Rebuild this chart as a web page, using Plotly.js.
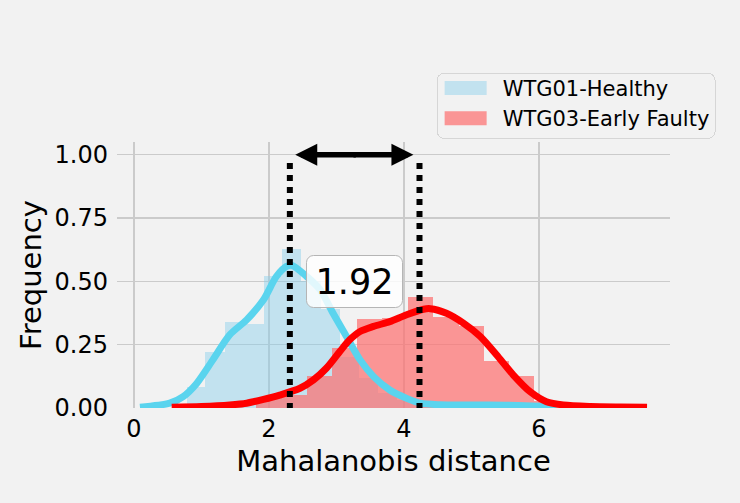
<!DOCTYPE html>
<html>
<head>
<meta charset="utf-8">
<script src="https://cdn.plot.ly/plotly-3.0.1.min.js"></script>
<style>
  html, body { margin: 0; padding: 0; background: #f2f2f2; }
  #chart { width: 740px; height: 503px; }
  .annotation rect.bg, .legend rect.bg { rx: 7px; ry: 7px; }
</style>
</head>
<body>
<div id="chart"></div>
<script>
// ---- Data ----
// WTG01-Healthy histogram (bin edges and normalised frequency)
var healthyEdges = [0.78, 1.06, 1.35, 1.63, 1.92, 2.20, 2.48, 2.77, 3.05, 3.34, 3.62, 3.90, 4.19, 4.47, 4.76, 5.04, 5.32, 5.61, 5.89, 6.18];
var healthyFreq  = [0.084, 0.223, 0.341, 0.330, 0.522, 0.627, 0.500, 0.390, 0.200, 0.120, 0.060, 0.030, 0.015, 0.010, 0.010, 0.010, 0.008, 0.008, 0.005];
// WTG03-Early Faulty histogram
var faultyEdges = [1.81, 2.19, 2.56, 2.93, 3.31, 3.68, 4.06, 4.43, 4.81, 5.18, 5.56, 5.93, 6.31];
var faultyFreq  = [0.040, 0.050, 0.126, 0.236, 0.350, 0.355, 0.437, 0.360, 0.325, 0.185, 0.126, 0.029];
// KDE curves
var healthyKdeX = [0.09, 0.53, 0.73, 0.93, 1.17, 1.42, 1.67, 1.92, 2.11, 2.26, 2.34, 2.56, 2.76, 2.95, 3.15, 3.35, 3.55, 3.79, 4.04, 4.24, 4.53, 5.0, 5.5, 5.9, 6.26];
var healthyKdeY = [0.003, 0.019, 0.045, 0.097, 0.190, 0.289, 0.348, 0.427, 0.519, 0.559, 0.563, 0.519, 0.466, 0.374, 0.282, 0.190, 0.124, 0.071, 0.038, 0.019, 0.013, 0.012, 0.011, 0.008, 0.004];
var faultyKdeX = [0.56, 1.0, 1.42, 1.67, 1.92, 2.16, 2.46, 2.66, 2.85, 3.05, 3.20, 3.35, 3.55, 3.79, 4.04, 4.29, 4.39, 4.63, 4.88, 5.13, 5.37, 5.62, 5.87, 6.11, 6.36, 6.76, 7.2, 7.6];
var faultyKdeY = [0.003, 0.006, 0.012, 0.019, 0.034, 0.051, 0.078, 0.111, 0.157, 0.223, 0.270, 0.302, 0.322, 0.341, 0.368, 0.390, 0.392, 0.374, 0.335, 0.282, 0.210, 0.130, 0.064, 0.025, 0.012, 0.006, 0.004, 0.003];
// Markers: the two distributions' peaks and the distance between them
var peakX = [2.31, 4.23];
var peakLineTop = 0.967;
var arrowEnds = [2.39, 4.14];
var arrowTails = [3.31, 3.23];
var arrowY = 1.0;
var distanceLabel = "1.92";
var labelPos = [3.262, 0.499];
// Axis ticks and labels
var xTicks = [0, 2, 4, 6];
var yTicks = [0, 0.25, 0.5, 0.75, 1.0];
var seriesNames = ["WTG01-Healthy", "WTG03-Early Faulty"];
var xTitle = "Mahalanobis distance";
var yTitle = "Frequency";

function centers(e) { var c = []; for (var i = 0; i < e.length - 1; i++) c.push((e[i] + e[i + 1]) / 2); return c; }
function widths(e) { var w = []; for (var i = 0; i < e.length - 1; i++) w.push(e[i + 1] - e[i]); return w; }

var FONT = "DejaVu Sans, sans-serif";

var traces = [
  { type: "bar", x: centers(healthyEdges), y: healthyFreq, width: widths(healthyEdges),
    name: seriesNames[0], marker: { color: "rgba(135,206,235,0.45)", line: { width: 0 } }, hoverinfo: "skip" },
  { type: "bar", x: centers(faultyEdges), y: faultyFreq, width: widths(faultyEdges),
    name: seriesNames[1], marker: { color: "rgba(253,110,110,0.7)", line: { width: 0 } }, hoverinfo: "skip" },
  { type: "scatter", mode: "lines", x: healthyKdeX, y: healthyKdeY, showlegend: false,
    line: { color: "#5ad4ee", width: 7, shape: "spline", smoothing: 0.8 } },
  { type: "scatter", mode: "lines", x: faultyKdeX, y: faultyKdeY, showlegend: false,
    line: { color: "#ff0000", width: 7, shape: "spline", smoothing: 0.8 } },
  { type: "scatter", mode: "lines", x: [peakX[0], peakX[0]], y: [peakLineTop, 0], showlegend: false,
    line: { color: "#000000", width: 6, dash: "dot" } },
  { type: "scatter", mode: "lines", x: [peakX[1], peakX[1]], y: [peakLineTop, 0], showlegend: false,
    line: { color: "#000000", width: 6, dash: "dot" } }
];

var layout = {
  width: 740, height: 503,
  paper_bgcolor: "#f2f2f2", plot_bgcolor: "#f2f2f2",
  margin: { l: 117, r: 70, t: 142, b: 95, pad: 0 },
  font: { family: FONT, color: "#000000" },
  barmode: "overlay", bargap: 0,
  showlegend: true,
  legend: {
    x: 0.578, y: 1.2826, xanchor: "left", yanchor: "top",
    bgcolor: "rgba(242,242,242,0.9)", bordercolor: "#d6d6d6", borderwidth: 1,
    font: { family: FONT, size: 21, color: "#000000" },
    itemwidth: 55, traceorder: "normal"
  },
  xaxis: {
    range: [-0.25, 7.94], tickvals: xTicks, ticktext: xTicks.map(String),
    showgrid: true, gridcolor: "#cbcbcb", gridwidth: 1.5, zeroline: false, showline: false,
    ticks: "", ticklabelstandoff: 4,
    tickfont: { family: FONT, size: 24, color: "#000000" },
    title: { text: xTitle, font: { family: FONT, size: 29, color: "#000000" }, standoff: 8 }
  },
  yaxis: {
    range: [0, 1.05], tickvals: yTicks, tickformat: ".2f",
    showgrid: true, gridcolor: "#cbcbcb", gridwidth: 1.5, zeroline: false, showline: false,
    ticks: "", ticklabelstandoff: 8,
    tickfont: { family: FONT, size: 24, color: "#000000" },
    title: { text: yTitle, font: { family: FONT, size: 29, color: "#000000" }, standoff: 4 }
  },
  annotations: [
    { x: arrowEnds[0], y: arrowY, ax: arrowTails[0], ay: arrowY, xref: "x", yref: "y", axref: "x", ayref: "y",
      text: "", showarrow: true, arrowhead: 2, arrowsize: 0.8, arrowwidth: 5.5, arrowcolor: "#000000" },
    { x: arrowEnds[1], y: arrowY, ax: arrowTails[1], ay: arrowY, xref: "x", yref: "y", axref: "x", ayref: "y",
      text: "", showarrow: true, arrowhead: 2, arrowsize: 0.8, arrowwidth: 5.5, arrowcolor: "#000000" },
    { x: labelPos[0], y: labelPos[1], xref: "x", yref: "y", text: distanceLabel, showarrow: false,
      font: { family: FONT, size: 35, color: "#000000" },
      bgcolor: "rgba(255,255,255,0.82)", bordercolor: "#b5b5b5", borderwidth: 1, borderpad: 1,
      width: 93, height: 49 }
  ]
};

Plotly.newPlot("chart", traces, layout, { staticPlot: true }).then(function (gd) {
  var pts = gd.querySelectorAll(".legend .legendpoints path");
  pts.forEach(function (p) { p.setAttribute("d", "M-25.5,-7H16.5V7H-25.5Z"); });
  var bg = gd.querySelector(".legend rect.bg");
  if (bg) {
    var y0 = parseFloat(bg.getAttribute("y") || "0");
    var h0 = parseFloat(bg.getAttribute("height") || "0");
    bg.setAttribute("y", y0 + 6);
    bg.setAttribute("height", h0 - 7);
  }
});
</script>
</body>
</html>
